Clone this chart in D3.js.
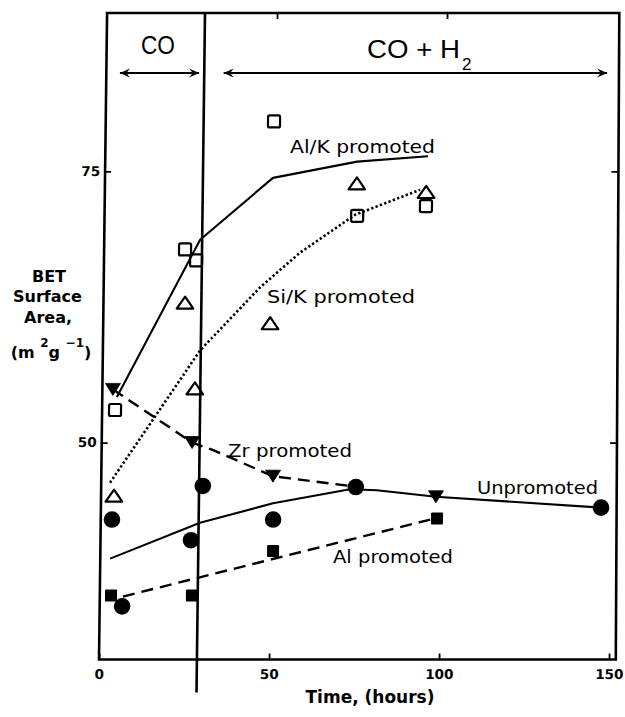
<!DOCTYPE html>
<html>
<head>
<meta charset="utf-8">
<script src="https://cdn.jsdelivr.net/npm/d3@7"></script>
<style>
  html, body { margin: 0; padding: 0; background: #fff; }
  svg { display: block; }
</style>
</head>
<body>
<svg id="chart" width="625" height="717"></svg>
<script>
// BET surface area of iron catalysts against time on stream (CO, then CO + H2)

// Al/K promoted: open squares, solid trend line
const alkHours = [3.8, 23.8, 27.1, 49.5, 74.3, 94.5];
const alkArea  = [53.0, 67.8, 66.8, 79.6, 70.9, 71.8];
const alkFitHours = [4.3, 28.2, 49.4, 74.1, 94.9];
const alkFitArea  = [54.2, 68.7, 74.4, 75.9, 76.4];

// Si/K promoted: open triangles, dotted trend line
const sikHours = [3.8, 24.0, 27.2, 49.1, 74.1, 94.5];
const sikArea  = [45.1, 62.9, 55.0, 61.0, 73.9, 73.1];
const sikFitHours = [2.6, 28.6, 46.0, 57.6, 73.7, 92.7];
const sikFitArea  = [46.3, 58.5, 64.3, 67.5, 71.0, 73.3];

// Zr promoted: filled down-triangles, dashed trend line
const zrHours = [3.1, 26.6, 50.5, 98.5];
const zrArea  = [54.9, 50.0, 46.9, 45.0];
const zrFitHours = [3.1, 26.6, 32.8, 50.5, 55.5, 73.0];
const zrFitArea  = [54.9, 50.0, 49.3, 46.9, 46.7, 46.0];

// Unpromoted: filled circles, solid trend line
const unpHours = [3.3, 6.6, 26.6, 29.9, 50.7, 74.9, 147.1];
const unpArea  = [42.9, 34.9, 41.0, 46.0, 42.9, 45.9, 44.0];
const unpFitHours = [2.9, 29.2, 50.6, 73.2, 81.1, 98.5, 147.1];
const unpFitArea  = [39.3, 42.6, 44.4, 45.7, 45.6, 45.0, 44.0];

// Al promoted: filled squares, dashed trend line
const alHours = [3.3, 27.1, 50.8, 98.9];
const alArea  = [35.9, 35.9, 40.0, 43.0];
const alFitHours = [6.8, 96.9];
const alFitArea  = [35.8, 42.9];

// axes
const xTicks = [0, 50, 100, 150];
const yTicks = [50, 75];
const xTopTicks = [50, 100];
const xDomain = [0, 152];
const yDomain = [30, 89.6];
const gasSwitchHour = 28.8;          // feed changes from CO to CO + H2
const coSpan = [4.0, 27.3];          // arrow under "CO"
const synSpan = [34.5, 147.3];       // arrow under "CO + H2"

const W = 625, H = 717;
const FONT = "'DejaVu Sans', Verdana, sans-serif";

const x = d3.scaleLinear().domain(xDomain).range([99, 615.8]);
const y = d3.scaleLinear().domain(yDomain).range([659.5, 13]);

const svg = d3.select("#chart");
svg.append("rect").attr("width", W).attr("height", H).attr("fill", "#fff");

const defs = svg.append("defs");
defs.append("marker")
  .attr("id", "tipR").attr("viewBox", "-11 -6 12 12")
  .attr("refX", 0).attr("refY", 0)
  .attr("markerWidth", 12).attr("markerHeight", 12)
  .attr("markerUnits", "userSpaceOnUse").attr("orient", "0")
  .append("path").attr("d", "M0,0 L-10,-4.5 L-6.5,0 L-10,4.5 Z").attr("fill", "#000");
defs.append("marker")
  .attr("id", "tipL").attr("viewBox", "-1 -6 12 12")
  .attr("refX", 0).attr("refY", 0)
  .attr("markerWidth", 12).attr("markerHeight", 12)
  .attr("markerUnits", "userSpaceOnUse").attr("orient", "0")
  .append("path").attr("d", "M0,0 L10,-4.5 L6.5,0 L10,4.5 Z").attr("fill", "#000");

// the printed plate leans a little: shear about the baseline,
// stronger on the left edge than on the right edge
const plotBase = y(yDomain[0]);
const plotTop = y(yDomain[1]);
const shearL = -0.716, shearR = -0.31;   // degrees
const shearGroup = deg => svg.append("g")
  .attr("transform", `translate(0,${plotBase}) skewX(${deg}) translate(0,${-plotBase})`);
const plot = shearGroup(shearL);
const rightSide = shearGroup(shearR);
const lean = deg => Math.tan(-deg * Math.PI / 180) * (plotBase - plotTop);

// frame: the right edge leans less than the left
svg.append("path")
  .attr("d", `M${x(xDomain[1])},${plotBase} L${x(xDomain[0])},${plotBase} L${x(xDomain[0]) + lean(shearL)},${plotTop} L${x(xDomain[1]) + lean(shearR)},${plotTop} Z`)
  .attr("fill", "none").attr("stroke", "#000").attr("stroke-width", 2.6)
  .attr("stroke-linejoin", "miter");

function styleAxis(g) {
  g.select(".domain").remove();
  g.selectAll(".tick line").attr("stroke", "#000").attr("stroke-width", 1.8);
  g.attr("font-family", FONT).attr("font-size", 13.5).attr("font-weight", "bold");
  g.selectAll(".tick text").attr("fill", "#000");
}

plot.append("g").attr("transform", `translate(0,${plotBase})`)
  .call(d3.axisBottom(x).tickValues(xTicks).tickSizeInner(-6).tickSizeOuter(0).tickPadding(10))
  .call(styleAxis);
plot.append("g").attr("transform", `translate(0,${plotTop})`)
  .call(d3.axisTop(x).tickValues(xTopTicks).tickSizeInner(-6).tickSizeOuter(0).tickFormat(() => ""))
  .call(styleAxis);
plot.append("g").attr("transform", `translate(${x(xDomain[0])},0)`)
  .call(d3.axisLeft(y).tickValues(yTicks).tickSizeInner(-6).tickSizeOuter(0).tickPadding(5))
  .call(styleAxis);
rightSide.append("g").attr("transform", `translate(${x(xDomain[1])},0)`)
  .call(d3.axisRight(y).tickValues(yTicks).tickSizeInner(-7).tickSizeOuter(0).tickFormat(() => ""))
  .call(styleAxis);

// gas switch divider, running below the axis
plot.append("line")
  .attr("x1", x(gasSwitchHour)).attr("x2", x(gasSwitchHour))
  .attr("y1", plotTop).attr("y2", plotBase + 33)
  .attr("stroke", "#000").attr("stroke-width", 2.6);

// phase arrows
const arrowY = 73;
[coSpan, synSpan].forEach(s => {
  plot.append("line")
    .attr("x1", x(s[0])).attr("x2", x(s[1]))
    .attr("y1", arrowY).attr("y2", arrowY)
    .attr("stroke", "#000").attr("stroke-width", 2)
    .attr("marker-start", "url(#tipL)").attr("marker-end", "url(#tipR)");
});

// trend lines
const pairs = (h, a) => h.map((v, i) => [v, a[i]]);
const lineGen = d3.line().x(d => x(d[0])).y(d => y(d[1]));

function trend(h, a, dash, width) {
  plot.append("path").datum(pairs(h, a)).attr("d", lineGen)
    .attr("fill", "none").attr("stroke", "#000")
    .attr("stroke-width", width)
    .attr("stroke-dasharray", dash)
    .attr("stroke-linejoin", "round");
}
trend(alkFitHours, alkFitArea, null, 2.1);
trend(sikFitHours, sikFitArea, "2.3,2.3", 2.6);
trend(zrFitHours, zrFitArea, "12,7", 2.4);
trend(unpFitHours, unpFitArea, null, 2.1);
trend(alFitHours, alFitArea, "12,7", 2.4);

// point markers
function points(h, a, draw) {
  const g = plot.append("g");
  pairs(h, a).forEach(d => {
    draw(g.append("g").attr("transform", `translate(${x(d[0])},${y(d[1])})`));
  });
}
points(alkHours, alkArea, g => g.append("rect")
  .attr("x", -6).attr("y", -6).attr("width", 12).attr("height", 12).attr("rx", 1.5)
  .attr("fill", "none").attr("stroke", "#000").attr("stroke-width", 2.2));
points(sikHours, sikArea, g => g.append("path")
  .attr("d", "M0,-6 L8.3,6 L-8.3,6 Z")
  .attr("fill", "none").attr("stroke", "#000").attr("stroke-width", 2.2)
  .attr("stroke-linejoin", "round"));
points(zrHours, zrArea, g => g.append("path")
  .attr("d", "M-7.5,-6 L7.5,-6 L0,6 Z").attr("fill", "#000")
  .attr("stroke", "#000").attr("stroke-width", 0.8).attr("stroke-linejoin", "round"));
points(unpHours, unpArea, g => g.append("circle")
  .attr("r", 8.3).attr("fill", "#000"));
points(alHours, alArea, g => g.append("rect")
  .attr("x", -6).attr("y", -6).attr("width", 12).attr("height", 12).attr("rx", 1)
  .attr("fill", "#000"));

// phase labels
svg.append("text").attr("x", 158).attr("y", 54).attr("text-anchor", "middle")
  .attr("font-family", "'Liberation Sans', Arial, sans-serif").attr("font-size", 25)
  .attr("textLength", 34).attr("lengthAdjust", "spacingAndGlyphs").text("CO");
svg.append("text").attr("x", 367).attr("y", 58)
  .attr("font-family", "'Liberation Sans', Arial, sans-serif").attr("font-size", 25)
  .attr("textLength", 93).attr("lengthAdjust", "spacingAndGlyphs").text("CO + H");
svg.append("text").attr("x", 462).attr("y", 70)
  .attr("font-family", "'Liberation Sans', Arial, sans-serif").attr("font-size", 17).text("2");

// series labels
const seriesLabels = [
  { text: "Al/K promoted", x: 290, y: 153, w: 145 },
  { text: "Si/K promoted", x: 267, y: 303, w: 148 },
  { text: "Zr promoted",   x: 228, y: 457, w: 124 },
  { text: "Unpromoted",    x: 477, y: 494, w: 121 },
  { text: "Al promoted",   x: 333, y: 563, w: 120 }
];
svg.append("g").selectAll("text").data(seriesLabels).join("text")
  .attr("x", d => d.x).attr("y", d => d.y)
  .attr("font-family", FONT).attr("font-size", 18.5)
  .attr("textLength", d => d.w).attr("lengthAdjust", "spacingAndGlyphs")
  .text(d => d.text);

// y axis title
const yt = svg.append("g").attr("font-family", FONT).attr("font-weight", "bold")
  .attr("font-size", 16).attr("text-anchor", "middle").attr("fill", "#000");
yt.append("text").attr("x", 49).attr("y", 282).text("BET");
yt.append("text").attr("x", 47.5).attr("y", 302).text("Surface");
yt.append("text").attr("x", 48).attr("y", 323).text("Area,");
const unit = yt.append("text").attr("x", 51).attr("y", 358);
unit.append("tspan").text("(m ");
unit.append("tspan").attr("font-size", 12).attr("dy", -11).text("2");
unit.append("tspan").attr("dy", 11).text("g ");
unit.append("tspan").attr("font-size", 12).attr("dy", -11).text("\u22121");
unit.append("tspan").attr("dy", 11).text(")");

// x axis title
svg.append("text").attr("x", 370).attr("y", 703).attr("text-anchor", "middle")
  .attr("font-family", FONT).attr("font-weight", "bold").attr("font-size", 17)
  .text("Time, (hours)");
</script>
</body>
</html>
